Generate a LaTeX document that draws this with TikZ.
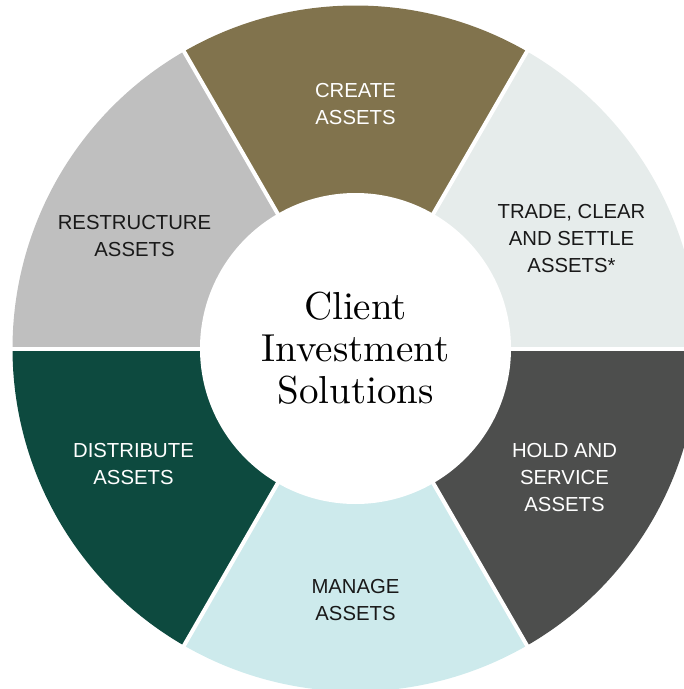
\documentclass[tikz,border=0pt]{standalone}
\usepackage{fontspec}
\setsansfont{Liberation Sans}
\newfontfamily\hubfont{lmroman10-regular}[Extension = .otf]
\usetikzlibrary{positioning, calc}
\definecolor{tradecol}{HTML}{E6ECEB}
\definecolor{createcol}{HTML}{81734D}
\definecolor{restructcol}{HTML}{BFBFBF}
\definecolor{distribcol}{HTML}{0D4A3F}
\definecolor{managecol}{HTML}{CDEAEC}
\definecolor{holdcol}{HTML}{4D4E4D}
\tikzset{
every node/.style = {font = \sffamily\fontsize{20.3}{27}\selectfont},
segment/.style = {draw = none},
gap/.style = {draw = white, line width = 4pt},
stage/.style = {align = center, inner sep = 0pt},
hub/.style = {circle, fill = white, minimum size = 311pt, inner sep = 0pt,
   align = center, font = \hubfont\fontsize{39}{42}\selectfont}
}
\begin{document}
\begin{tikzpicture}[x = 1pt, y = 1pt]
\useasboundingbox (-355.5, -340.5) rectangle (328.5, 348.5);
\clip (-355.5, -340.5) rectangle (328.5, 348.5);

%% Ring segments
\foreach \a/\c in {0/tradecol, 60/createcol, 120/restructcol, 180/distribcol, 240/managecol, 300/holdcol} {
   \fill [segment, \c] (0,0) -- (\a:343) arc [start angle = \a, end angle = \a + 60, radius = 343] -- cycle;
}

%% Gaps between segments
\foreach \a in {0, 60, ..., 300}
   \draw [gap] (0,0) -- (\a:360);

%% Hub
\node [hub] (hub) at (0,0) {Client\\Investment\\Solutions};

%% Stage labels
\foreach \x/\y/\n/\t/\tc in {216/110/trade/{TRADE, CLEAR\\AND SETTLE\\ASSETS*}/black!90,
                             0/244/create/{CREATE\\ASSETS}/white,
                             -221/112/restructure/{RESTRUCTURE\\ASSETS}/black!90,
                             -222/-116/distribute/{DISTRIBUTE\\ASSETS}/white,
                             0/-252/manage/{MANAGE\\ASSETS}/black!90,
                             209/-129/hold/{HOLD AND\\SERVICE\\ASSETS}/white} {
   \node [stage, text = \tc] (\n) at (\x, \y) {\t};
}

\end{tikzpicture}
\end{document}
